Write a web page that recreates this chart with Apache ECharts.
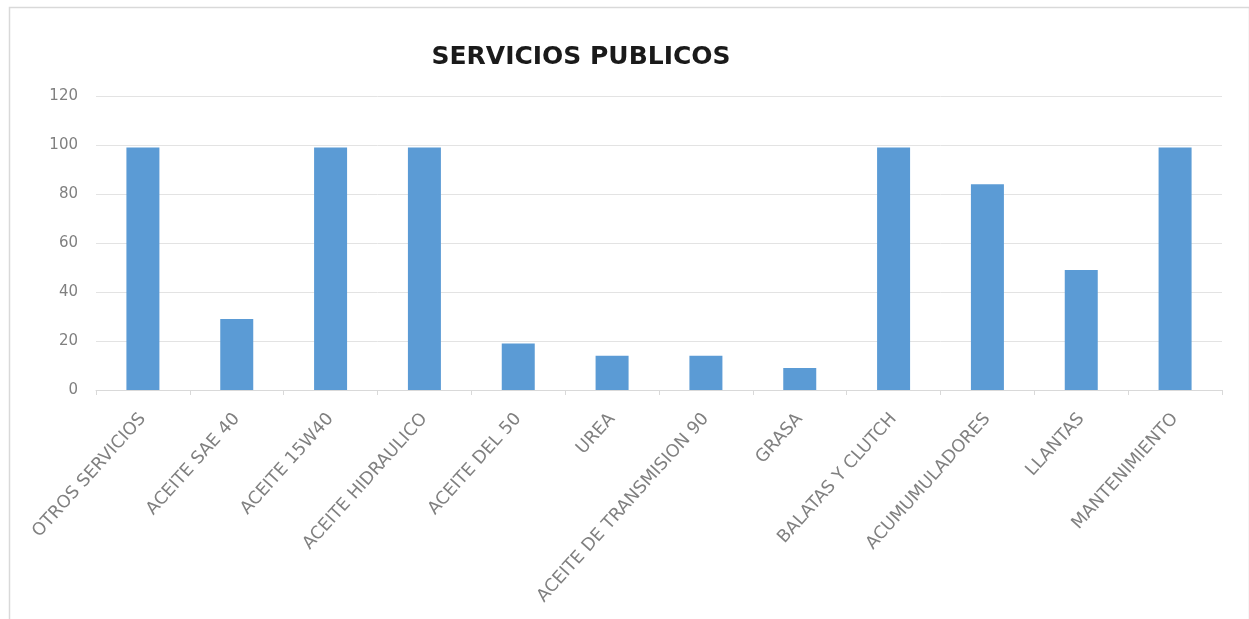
<!DOCTYPE html>
<html>
<head>
<meta charset="utf-8">
<script src="https://cdn.jsdelivr.net/npm/echarts@6/dist/echarts.min.js"></script>
<style>html,body{margin:0;padding:0;background:#fff}#c{width:1249px;height:619px}</style>
</head>
<body>
<div id="c"></div>
<script>
const titleText = 'SERVICIOS PUBLICOS';
const categories = ['OTROS SERVICIOS','ACEITE SAE 40','ACEITE 15W40','ACEITE HIDRAULICO','ACEITE DEL 50','UREA','ACEITE DE TRANSMISION 90','GRASA','BALATAS Y CLUTCH','ACUMUMULADORES','LLANTAS','MANTENIMIENTO'];
const values = [99, 29, 99, 99, 19, 14, 14, 9, 99, 84, 49, 99];
const yTicks = {min: 0, max: 120, interval: 20};

const chart = echarts.init(document.getElementById('c'));
chart.setOption({
  backgroundColor: '#fff',
  animation: false,
  graphic: [{
    type: 'rect', left: 7, top: 5,
    shape: {width: 1240, height: 620},
    style: {fill: 'none', stroke: '#d9d9d9', lineWidth: 1.5}
  }],
  title: {
    text: titleText, left: 576, top: 40, textAlign: 'center',
    textStyle: {fontFamily: 'DejaVu Sans', fontWeight: 'bold', fontSize: 25, color: '#1a1a1a'}
  },
  grid: {left: 96, right: 27, top: 96, bottom: 229, containLabel: false},
  xAxis: {
    type: 'category', data: categories,
    axisLine: {lineStyle: {color: '#d9d9d9'}},
    axisTick: {show: true, alignWithLabel: false, length: 5, lineStyle: {color: '#d9d9d9'}},
    axisLabel: {rotate: 48, interval: 0, color: '#808080', fontFamily: 'DejaVu Sans', fontSize: 17.5, margin: 26}
  },
  yAxis: {
    type: 'value', min: yTicks.min, max: yTicks.max, interval: yTicks.interval,
    axisLine: {show: false}, axisTick: {show: false},
    splitLine: {lineStyle: {color: '#e3e3e3', width: 1}},
    axisLabel: {color: '#808080', fontFamily: 'DejaVu Sans', fontSize: 15, margin: 18}
  },
  series: [{
    type: 'bar', data: values, barWidth: 33,
    itemStyle: {color: '#5B9BD5'}
  }]
});
</script>
</body>
</html>
